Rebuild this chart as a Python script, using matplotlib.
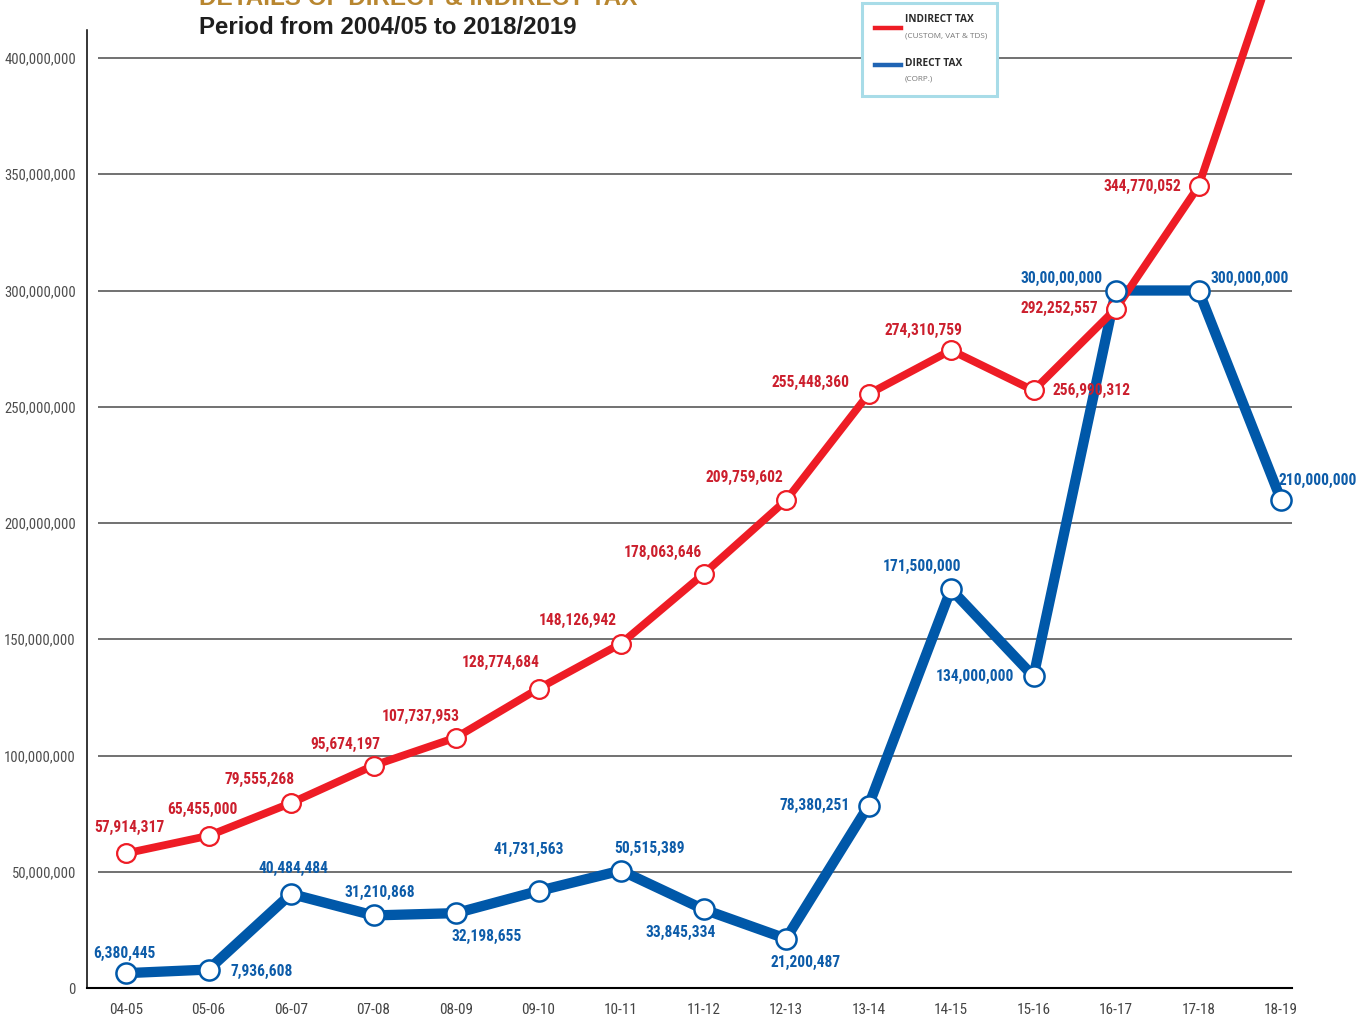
import matplotlib
matplotlib.use("Agg")
import matplotlib.pyplot as plt
from matplotlib import font_manager
from matplotlib.lines import Line2D
from matplotlib.patches import Rectangle

W, H = 1359, 1019

years = ["04-05", "05-06", "06-07", "07-08", "08-09", "09-10", "10-11", "11-12",
         "12-13", "13-14", "14-15", "15-16", "16-17", "17-18", "18-19"]

# indirect tax (custom, vat & tds); last point runs off the top of the chart, value estimated
indirect_tax = [57914317, 65455000, 79555268, 95674197, 107737953, 128774684, 148126942,
                178063646, 209759602, 255448360, 274310759, 256990312, 292252557,
                344770052, 450000000]
indirect_labels = ["57,914,317", "65,455,000", "79,555,268", "95,674,197", "107,737,953",
                   "128,774,684", "148,126,942", "178,063,646", "209,759,602", "255,448,360",
                   "274,310,759", "256,990,312", "292,252,557", "344,770,052", None]

# direct tax (corp.)
direct_tax = [6380445, 7936608, 40484484, 31210868, 32198655, 41731563, 50515389,
              33845334, 21200487, 78380251, 171500000, 134000000, 300000000,
              300000000, 210000000]
direct_labels = ["6,380,445", "7,936,608", "40,484,484", "31,210,868", "32,198,655",
                 "41,731,563", "50,515,389", "33,845,334", "21,200,487", "78,380,251",
                 "171,500,000", "134,000,000", "30,00,00,000", "300,000,000", "210,000,000"]

y_ticks = [0, 50000000, 100000000, 150000000, 200000000, 250000000, 300000000,
           350000000, 400000000]

# label offsets from the marker, in pixels (x right, y up)
red_offsets = [(3, 26), (-6, 26), (-31, 24), (-28, 21), (-35, 21), (-38, 26), (-43, 23),
               (-41, 22), (-42, 23), (-58, 12), (-28, 20), (58, 0), (-57, 0), (-56, 0), (0, 0)]
blue_offsets = [(-2, 20), (53, -2), (2, 25), (6, 23), (31, -23), (-10, 41), (29, 22),
                (-23, -23), (20, -24), (-54, 0), (-29, 23), (-59, 0), (-54, 12), (51, 12),
                (37, 19)]

RED = "#ee1c25"
RED_TXT = "#cc1f2d"
BLUE = "#0058a9"
BLUE_TXT = "#0d5ca9"


def pick(*names):
    have = {f.name for f in font_manager.fontManager.ttflist}
    out = [n for n in names if n in have]
    return out + ["DejaVu Sans"]


NARROW = pick("Liberation Sans Narrow", "Roboto Condensed", "DejaVu Sans Condensed", "Liberation Sans")
BOLD = pick("Liberation Sans", "Arial")
LEG = pick("Open Sans", "Noto Sans")


def fx(px):
    return px / W


def fy(py):
    return 1 - py / H


fig = plt.figure(figsize=(W / 100, H / 100), dpi=100)
ax = fig.add_axes([fx(87), fy(988), (1292 - 87) / W, 988 / H])

px_per_val = 2.325e-6
ax.set_ylim(0, 988 / px_per_val)
ax.set_xlim(-39 / 82.5, 14 + 11 / 82.5)

x = list(range(len(years)))

for v in y_ticks[1:]:
    ax.hlines(v, -28 / 82.5, 14 + 11 / 82.5, color="#4a4a4a", lw=1.1, zorder=1)

ax.plot(x, direct_tax, color=BLUE, lw=7.4, solid_capstyle="butt", zorder=2)
ax.plot(x, indirect_tax, color=RED, lw=5.6, solid_capstyle="butt", zorder=3)
ax.plot(x, indirect_tax, ls="none", marker="o", ms=13.5, mfc="white", mec=RED, mew=1.6, zorder=4)
ax.plot(x, direct_tax, ls="none", marker="o", ms=14.5, mfc="white", mec=BLUE, mew=1.8, zorder=5)

for xi, v, lab, off in zip(x, indirect_tax, indirect_labels, red_offsets):
    if lab is None:
        continue
    ax.annotate(lab, (xi, v), xytext=off, textcoords="offset pixels", ha="center", va="center",
                color=RED_TXT, fontsize=11.2, fontweight="bold", family=NARROW, zorder=6,
                annotation_clip=False)
for xi, v, lab, off in zip(x, direct_tax, direct_labels, blue_offsets):
    ax.annotate(lab, (xi, v), xytext=off, textcoords="offset pixels", ha="center", va="center",
                color=BLUE_TXT, fontsize=11.2, fontweight="bold", family=NARROW, zorder=6,
                annotation_clip=False)

for s in ("top", "right"):
    ax.spines[s].set_visible(False)
ax.spines["left"].set_bounds(0, (988 - 30) / px_per_val)
ax.spines["left"].set_linewidth(1.1)
ax.spines["bottom"].set_linewidth(1.5)

ax.set_yticks(y_ticks)
ax.set_yticklabels([f"{v:,}" for v in y_ticks], family=NARROW, fontsize=10.5, color="#4d4d4d")
ax.set_xticks(x)
ax.set_xticklabels(years, family=NARROW, fontsize=11, color="#444444")
ax.tick_params(axis="y", length=0, pad=8)
ax.tick_params(axis="x", length=0, pad=11)

# titles
fig.text(fx(199), fy(5), "DETAILS OF DIRECT & INDIRECT TAX", color="#b8862f", fontsize=17.5,
         fontweight="bold", family=BOLD, va="baseline", ha="left")
fig.text(fx(199), fy(27), "Period from 2004/05 to 2018/2019", color="#1e1e1e", fontsize=17.3,
         fontweight="bold", family=BOLD, va="center", ha="left")

# legend box
fig.add_artist(Rectangle((fx(862), fy(96)), 135 / W, 93 / H, transform=fig.transFigure,
                         facecolor="white", edgecolor="#a8dce8", lw=2.2, zorder=10))
fig.add_artist(Line2D([fx(875), fx(901)], [fy(28), fy(28)], color=RED, lw=3.2, zorder=11))
fig.add_artist(Line2D([fx(875), fx(901)], [fy(65), fy(65)], color="#1f64b4", lw=3.2, zorder=11))
fig.text(fx(905), fy(20), "INDIRECT TAX", fontsize=7.3, fontweight="bold", color="#2a2a2a",
         family=LEG, va="center", zorder=12)
fig.text(fx(905), fy(36), "(CUSTOM, VAT & TDS)", fontsize=5.9, color="#777777",
         family=LEG, va="center", zorder=12)
fig.text(fx(905), fy(63), "DIRECT TAX", fontsize=7.3, fontweight="bold", color="#2a2a2a",
         family=LEG, va="center", zorder=12)
fig.text(fx(905), fy(79), "(CORP.)", fontsize=5.9, color="#777777",
         family=LEG, va="center", zorder=12)

fig.savefig("out.png", dpi=100)
